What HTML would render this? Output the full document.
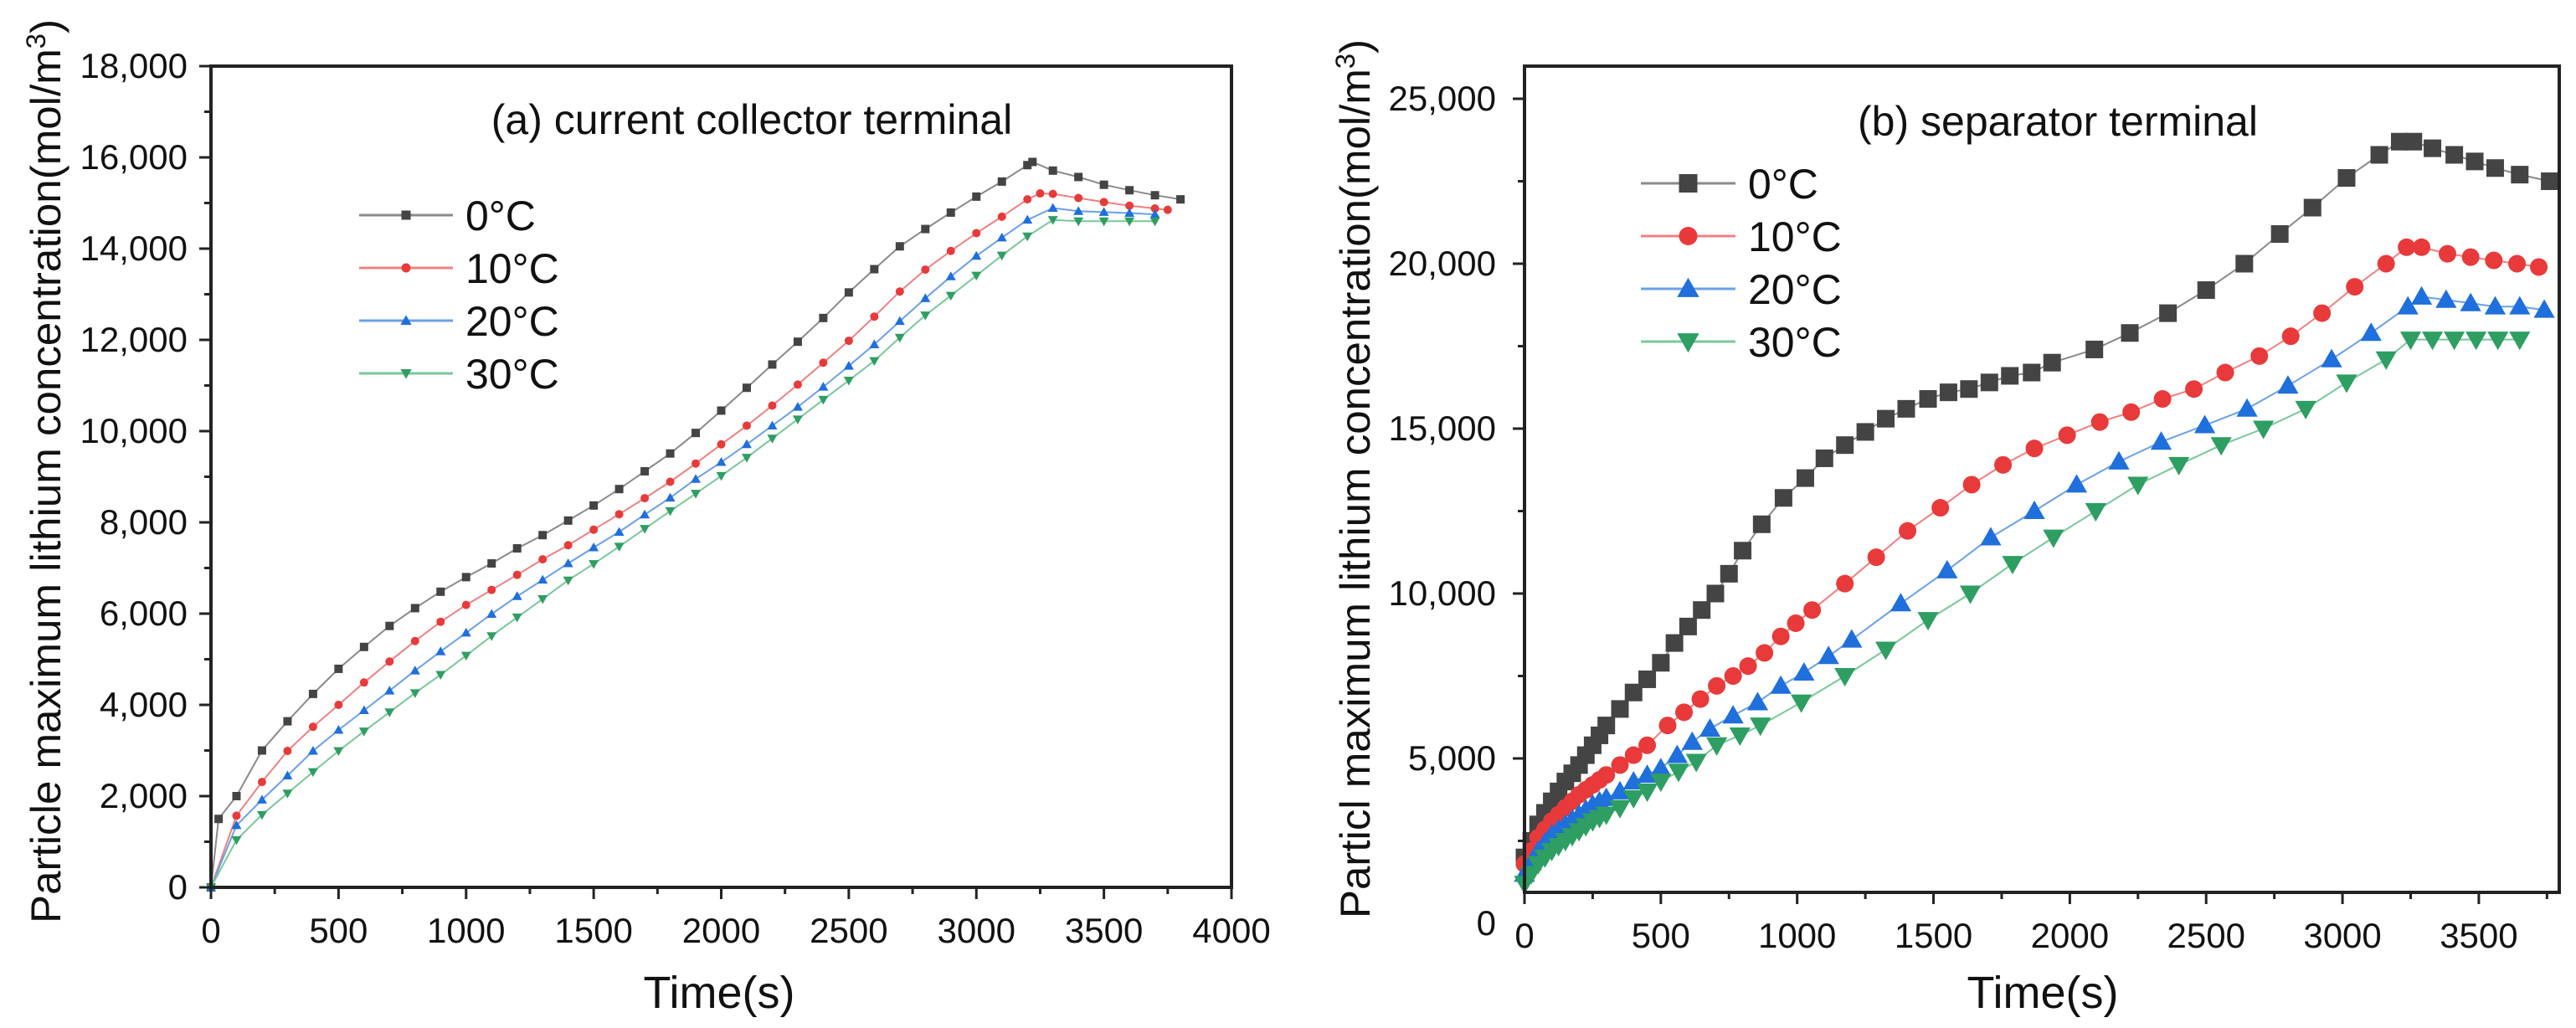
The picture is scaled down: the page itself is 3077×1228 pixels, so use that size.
<!DOCTYPE html>
<html><head><meta charset="utf-8"><style>
html,body{margin:0;padding:0;background:#fff}
svg{display:block}
text{font-family:"Liberation Sans",Arial,sans-serif;fill:#111}
</style></head><body>
<svg id="chart" width="3077" height="1228" viewBox="0 0 3077 1228" xmlns="http://www.w3.org/2000/svg"></svg>
<script>
// ---------- Panel (a) data ----------
const aSeriesNames = ["0°C","10°C","20°C","30°C"];
const aT0 = [0,30,100,200,300,400,500,600,700,800,900,1000,1100,1200,1300,1400,1500,1600,1700,1800,1900,2000,2100,2200,2300,2400,2500,2600,2700,2800,2900,3000,3100,3200,3220,3300,3400,3500,3600,3700,3800];
const aY0 = [0,1500,2000,3000,3640,4240,4790,5270,5730,6120,6480,6800,7100,7430,7720,8040,8370,8730,9120,9510,9960,10450,10950,11460,11960,12480,13040,13550,14050,14430,14790,15140,15470,15830,15900,15710,15570,15400,15280,15170,15080];
const aT1 = [0,100,200,300,400,500,600,700,800,900,1000,1100,1200,1300,1400,1500,1600,1700,1800,1900,2000,2100,2200,2300,2400,2500,2600,2700,2800,2900,3000,3100,3200,3250,3300,3400,3500,3600,3700,3750];
const aY1 = [0,1570,2310,2990,3520,4000,4490,4950,5400,5820,6190,6520,6850,7190,7500,7840,8180,8530,8890,9290,9710,10120,10560,11020,11500,11980,12510,13060,13540,13950,14340,14700,15080,15210,15200,15110,15020,14940,14880,14850];
const aT2 = [0,100,200,300,400,500,600,700,800,900,1000,1100,1200,1300,1400,1500,1600,1700,1800,1900,2000,2100,2200,2300,2400,2500,2600,2700,2800,2900,3000,3100,3200,3300,3400,3500,3600,3700];
const aY2 = [0,1360,1920,2450,2990,3450,3880,4310,4750,5170,5580,5990,6380,6740,7100,7450,7790,8170,8540,8950,9320,9710,10120,10530,10970,11430,11900,12410,12910,13390,13840,14240,14630,14890,14820,14800,14780,14750];
const aT3 = [0,100,200,300,400,500,600,700,800,900,1000,1100,1200,1300,1400,1500,1600,1700,1800,1900,2000,2100,2200,2300,2400,2500,2600,2700,2800,2900,3000,3100,3200,3300,3400,3500,3600,3700];
const aY3 = [0,1040,1590,2060,2530,2990,3420,3840,4260,4660,5080,5510,5920,6320,6730,7090,7470,7860,8250,8630,9020,9420,9840,10260,10690,11110,11540,12050,12540,12970,13410,13850,14270,14630,14600,14600,14600,14600];
const aYTicks = [0,2000,4000,6000,8000,10000,12000,14000,16000,18000];
const aYTickLabels = ["0","2,000","4,000","6,000","8,000","10,000","12,000","14,000","16,000","18,000"];
const aXTicks = [0,500,1000,1500,2000,2500,3000,3500,4000];

// ---------- Panel (b) data ----------
const bT0 = [0,25,50,75,100,125,150,175,200,225,250,275,300,350,400,450,500,550,600,650,700,750,800,870,950,1030,1100,1175,1250,1325,1400,1480,1555,1630,1705,1780,1860,1935,2090,2220,2360,2500,2640,2770,2890,3015,3135,3210,3260,3330,3410,3485,3560,3650,3760];
const bY0 = [2000,2500,3000,3350,3700,4000,4300,4550,4800,5100,5400,5700,6000,6500,7000,7400,7900,8500,9000,9500,10000,10600,11300,12100,12900,13500,14100,14500,14900,15300,15600,15900,16100,16200,16400,16600,16700,17000,17400,17900,18500,19200,20000,20900,21700,22600,23300,23700,23700,23500,23300,23100,22900,22700,22500];
const bT1 = [0,25,50,75,100,125,150,175,200,225,250,275,300,350,400,450,525,585,645,705,765,820,880,940,995,1055,1175,1290,1405,1525,1640,1755,1870,1990,2110,2225,2340,2455,2570,2695,2810,2925,3045,3160,3235,3290,3385,3470,3555,3640,3720];
const bY1 = [1800,2200,2600,2850,3100,3300,3500,3700,3900,4050,4200,4350,4500,4800,5100,5400,6000,6400,6800,7200,7500,7800,8200,8700,9100,9500,10300,11100,11900,12600,13300,13900,14400,14800,15200,15500,15900,16200,16700,17200,17800,18500,19300,20000,20500,20500,20300,20200,20100,20000,19900];
const bT2 = [0,25,50,75,100,125,150,175,200,225,250,275,300,350,400,450,500,560,615,680,765,855,940,1025,1115,1200,1380,1550,1710,1870,2025,2180,2335,2495,2650,2800,2960,3105,3240,3290,3380,3470,3560,3650,3740];
const bY2 = [1500,1850,2200,2450,2700,2850,3000,3150,3300,3450,3600,3700,3800,4000,4300,4500,4700,5100,5500,5900,6300,6700,7200,7600,8100,8600,9700,10700,11700,12500,13300,14000,14600,15100,15600,16300,17100,17900,18700,19000,18900,18800,18700,18700,18600];
const bT3 = [0,25,50,75,100,125,150,175,200,225,250,275,300,350,400,450,500,565,630,705,790,865,1015,1175,1325,1480,1635,1790,1940,2095,2250,2400,2555,2710,2865,3015,3160,3250,3330,3410,3490,3570,3650];
const bY3 = [1200,1500,1800,2000,2200,2350,2500,2650,2800,2950,3100,3200,3300,3500,3800,4000,4300,4600,4900,5400,5700,6000,6700,7500,8300,9200,10000,10900,11700,12500,13300,13900,14500,15000,15600,16400,17100,17700,17700,17700,17700,17700,17700];
const bYTicks = [0,5000,10000,15000,20000,25000];
const bYTickLabels = ["0","5,000","10,000","15,000","20,000","25,000"];
const bXTicks = [0,500,1000,1500,2000,2500,3000,3500];

const NS = "http://www.w3.org/2000/svg";
const svg = document.getElementById("chart");
function mk(tag, attrs, parent){
  const e = document.createElementNS(NS, tag);
  for (const k in attrs) e.setAttribute(k, attrs[k]);
  (parent||svg).appendChild(e);
  return e;
}
const colors = ["#444444","#e83a3a","#1f6fdc","#2e9e62"];
const lineColors = ["#8a8a8a","#f08080","#6aa0ea","#78c89a"];
const shapes = ["square","circle","up","down"];

function marker(g, shape, x, y, s, color){
  let e;
  if (shape==="square") e = mk("rect",{x:x-s/2,y:y-s/2,width:s,height:s,fill:color},g);
  else if (shape==="circle") e = mk("circle",{cx:x,cy:y,r:s/2,fill:color},g);
  else if (shape==="up") e = mk("polygon",{points:`${x},${y-s*0.6} ${x-s*0.6},${y+s*0.45} ${x+s*0.6},${y+s*0.45}`,fill:color},g);
  else e = mk("polygon",{points:`${x},${y+s*0.6} ${x-s*0.6},${y-s*0.45} ${x+s*0.6},${y-s*0.45}`,fill:color},g);
  
  
  return e;
}

function panel(cfg){
  const {id,L,R,T,B,xMax,yMaxPx0,yTop,yMax,xTicks,yTicks,yTickLabels,series,mSize,lw} = cfg;
  const g = mk("g",{});
  
  
  const xs = v => L + v/xMax*(R-L);
  const ys = v => yMaxPx0 - v/yMax*(yMaxPx0 - yTop);
  series.forEach((s,i)=>{
    const sg = mk("g",{},g);
    
    
    const pts = s.t.map((t,j)=>xs(t).toFixed(1)+","+ys(s.y[j]).toFixed(1)).join(" ");
    const pl = mk("polyline",{points:pts,fill:"none",stroke:lineColors[i],"stroke-width":lw},sg);
    
    
    s.t.forEach((t,j)=>marker(sg, shapes[i], xs(t), ys(s.y[j]), mSize, colors[i]));
  });
  const fr = mk("rect",{x:L,y:T,width:R-L,height:B-T,fill:"none",stroke:"#222","stroke-width":4},g);
  
  
  const xg = mk("g",{},g);
  
  
  const xStep = xTicks[1]-xTicks[0];
  for (let v=0; v<=xMax+1; v+=xStep/2){
    const major = (v % xStep)===0;
    mk("line",{x1:xs(v),x2:xs(v),y1:B,y2:B+(major?14:8),stroke:"#222","stroke-width":3},xg);
  }
  xTicks.forEach(v=>{
    const t = mk("text",{x:xs(v),y:cfg.xLabY,"text-anchor":"middle","font-size":42},xg);
    t.textContent = v;
    
    
  });
  const yg = mk("g",{},g);
  
  
  const yStep = yTicks[1]-yTicks[0];
  for (let v=0; v<=yMax+1; v+=yStep/2){
    const yy = ys(v);
    if (yy > B+1 || yy < T-1) continue;
    const major = (v % yStep)===0;
    mk("line",{x1:L,x2:L-(major?14:8),y1:yy,y2:yy,stroke:"#222","stroke-width":3},yg);
  }
  yTicks.forEach((v,i)=>{
    const t = mk("text",{x:cfg.yLabX,y:ys(v)+14,"text-anchor":"end","font-size":42},yg);
    t.textContent = yTickLabels[i];
    
    
  });
  const xt = mk("text",{x:cfg.xTitleX,y:1204,"text-anchor":"middle","font-size":54},g);
  xt.textContent = "Time(s)";
  
  
  const yt = mk("text",{x:0,y:0,"text-anchor":"middle","font-size":50,textLength:cfg.yTitleLen,lengthAdjust:"spacingAndGlyphs",transform:`translate(${cfg.yTitleX},${cfg.yTitleY}) rotate(-90)`},g);
  yt.innerHTML = cfg.yTitle + '(mol/m<tspan baseline-shift="super" font-size="32">3</tspan>)';
  
  
  const pt = mk("text",{x:cfg.titleX,y:cfg.titleY,"text-anchor":"middle","font-size":cfg.titleSize},g);
  pt.textContent = cfg.title;
  
  
  const lg = mk("g",{},g);
  
  
  series.forEach((s,i)=>{
    const y = cfg.legY[i];
    const eg = mk("g",{},lg);
    
    
    mk("line",{x1:cfg.legX1,x2:cfg.legX2,y1:y,y2:y,stroke:lineColors[i],"stroke-width":lw+1},eg);
    marker(eg, shapes[i], (cfg.legX1+cfg.legX2)/2, y, cfg.legM, colors[i]);
    const t = mk("text",{x:cfg.legTX,y:y+18,"font-size":50},eg);
    t.textContent = s.name;
  });
  return g;
}

panel({id:"panel-a",L:252,R:1471,T:79,B:1060,xMax:4000,yMaxPx0:1060,yTop:79,yMax:18000,
  xTicks:aXTicks,yTicks:aYTicks,yTickLabels:aYTickLabels,
  series:[{name:aSeriesNames[0],t:aT0,y:aY0},{name:aSeriesNames[1],t:aT1,y:aY1},{name:aSeriesNames[2],t:aT2,y:aY2},{name:aSeriesNames[3],t:aT3,y:aY3}],
  mSize:10,lw:2,xLabY:1126,yLabX:224,xTitleX:859,yTitleX:72,yTitleY:563,yTitleLen:1080,
  yTitle:"Particle maximum  lithium concentration",title:"(a) current collector terminal",titleX:898,titleY:160,titleSize:50,
  legY:[257,320,383,446],legX1:429,legX2:541,legTX:556,legM:11});

panel({id:"panel-b",L:1821,R:3057,T:79,B:1066,xMax:3795,yMaxPx0:1103,yTop:118,yMax:25000,
  xTicks:bXTicks,yTicks:bYTicks,yTickLabels:bYTickLabels,
  series:[{name:aSeriesNames[0],t:bT0,y:bY0},{name:aSeriesNames[1],t:bT1,y:bY1},{name:aSeriesNames[2],t:bT2,y:bY2},{name:aSeriesNames[3],t:bT3,y:bY3}],
  mSize:21,lw:2,xLabY:1132,yLabX:1787,xTitleX:2440,yTitleX:1636,yTitleY:572,yTitleLen:1050,
  yTitle:"Particl maximum lithium concentration",title:"(b) separator terminal",titleX:2458,titleY:162,titleSize:50,
  legY:[219,282,345,408],legX1:1960,legX2:2073,legTX:2088,legM:22});
</script>
</body></html>
